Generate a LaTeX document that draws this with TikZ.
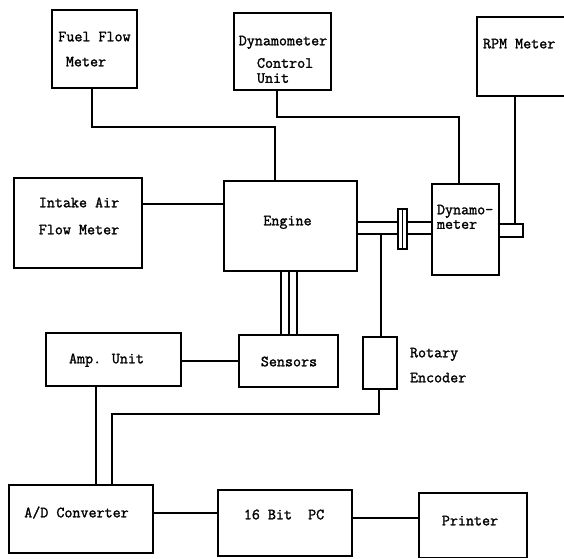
\documentclass[tikz,border=0pt]{standalone}
\usepackage{fontspec}
\newfontfamily\tw{Latin Modern Mono}[FakeBold=1.6]
\begin{document}
\begin{tikzpicture}[x=1pt,y=-1pt, line width=1.3pt,
  box/.style={draw, rectangle, inner sep=0pt, outer sep=0pt, anchor=north west},
  txt/.style={font=\tw\fontsize{15.6}{16}\selectfont, inner sep=0pt, outer sep=0pt, text height=7.6pt, text depth=0pt}]
\useasboundingbox (0,0) rectangle (564,558);
\clip (0,0) rectangle (564,558);
% boxes
\node[box, minimum width=85pt, minimum height=78pt] (fuel) at (52,10) {};
\node[box, minimum width=97pt, minimum height=77pt] (dcu) at (234,13) {};
\node[box, minimum width=98pt, minimum height=79pt] (rpm) at (477,17) {};
\node[box, minimum width=128pt, minimum height=90pt] (intake) at (14,178) {};
\node[box, minimum width=133pt, minimum height=90pt] (engine) at (224,181) {};
\node[box, minimum width=67pt, minimum height=91pt] (dyno) at (432,184) {};
\node[box, minimum width=9pt, minimum height=40pt] (coup) at (398,209) {};
\node[box, minimum width=24pt, minimum height=13pt] (stub) at (499,224) {};
\node[box, minimum width=99pt, minimum height=52pt] (sensors) at (239,335) {};
\node[box, minimum width=34pt, minimum height=52pt] (enc) at (363,337) {};
\node[box, minimum width=135pt, minimum height=53pt] (amp) at (46,333) {};
\node[box, minimum width=144pt, minimum height=68pt] (adc) at (9,485) {};
\node[box, minimum width=134pt, minimum height=66pt] (pc) at (218,490) {};
\node[box, minimum width=108pt, minimum height=64.5pt] (printer) at (419,493) {};
% texts
\node[txt] (t1) at (94.5,37.5) {Fuel Flow};
\node[txt] (t2) at (86,62.5) {Meter};
\node[txt] (t3) at (283,41.5) {Dynamometer};
\node[txt, anchor=west] (t4) at (257,64) {Control};
\node[txt, anchor=west] (t5) at (257,79) {Unit};
\node[txt, anchor=west] (t6) at (483,44.5) {RPM Meter};
\node[txt] (t7) at (79,203.5) {Intake Air};
\node[txt] (t8) at (79,230.5) {Flow Meter};
\node[txt] (t9) at (287.5,221.5) {Engine};
\node[txt, anchor=west] (t10) at (437,210.5) {Dynamo-};
\node[txt, anchor=west] (t11) at (437,225) {meter};
\node[txt] (t12) at (289,362.5) {Sensors};
\node[txt, anchor=west] (t13) at (410,353.5) {Rotary};
\node[txt, anchor=west] (t14) at (410,378.5) {Encoder};
\node[txt] (t15) at (106.5,359.5) {Amp. Unit};
\node[txt] (t16) at (76.5,513.5) {A/D Converter};
\node[txt] (t17) at (284,515.5) {16 Bit~~PC};
\node[txt] (t18) at (470,521.5) {Printer};
% connectors
\coordinate (fA) at (92,127); \coordinate (fB) at (275,127);
\draw (fA |- fuel.south) -- (fA) -- (fB) -- (fB |- engine.north);
\coordinate (dA) at (277,117); \coordinate (dB) at (459,117);
\draw (dA |- dcu.south) -- (dA) -- (dB) -- (dB |- dyno.north);
\coordinate (rr) at (515,150);
\draw (rr |- rpm.south) -- (rr |- stub.north);
\coordinate (ia) at (0,204);
\draw (intake.east |- ia) -- (engine.west |- ia);
\coordinate (s1) at (0,222); \coordinate (s2) at (0,234);
\draw (engine.east |- s1) -- (coup.west |- s1);
\draw (engine.east |- s2) -- (coup.west |- s2);
\draw (coup.east |- s1) -- (dyno.west |- s1);
\draw (coup.east |- s2) -- (dyno.west |- s2);
\draw[line width=1pt] (coup.north) -- (coup.south);
\foreach \x [count=\i] in {281,289,297} {
  \coordinate (sx\i) at (\x,300);
  \draw (sx\i |- engine.south) -- (sx\i |- sensors.north);
}
\coordinate (e1) at (381,300);
\draw (e1 |- s2) -- (e1 |- enc.north);
\coordinate (eA) at (379,414); \coordinate (eB) at (112,414);
\draw (eA |- enc.south) -- (eA) -- (eB) -- (eB |- adc.north);
\coordinate (as) at (0,361);
\draw (amp.east |- as) -- (sensors.west |- as);
\coordinate (aa) at (96,0);
\draw (aa |- amp.south) -- (aa |- adc.north);
\coordinate (ap) at (0,513);
\draw (adc.east |- ap) -- (pc.west |- ap);
\coordinate (pp) at (0,518);
\draw (pc.east |- pp) -- (printer.west |- pp);
\end{tikzpicture}
\end{document}
